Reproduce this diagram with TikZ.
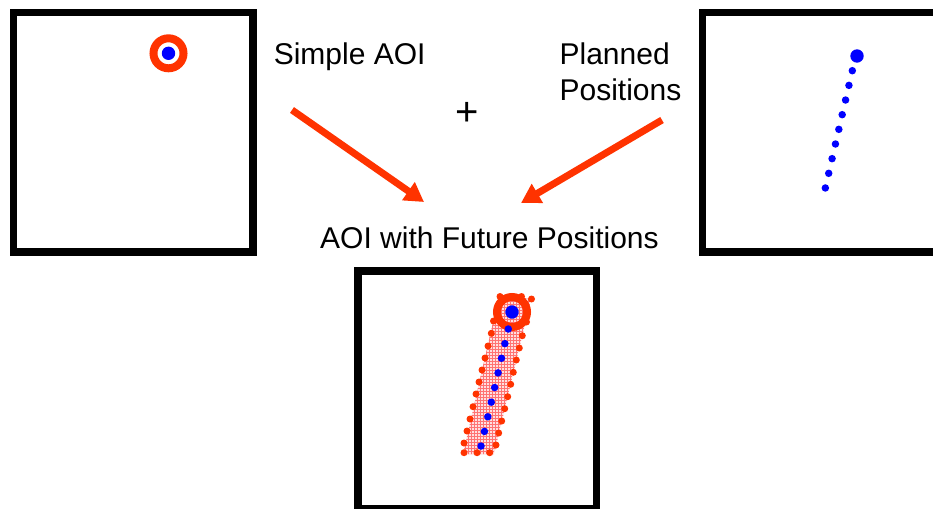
\documentclass[tikz,border=0pt]{standalone}
\usepackage{fontspec}
\setmainfont{Liberation Sans}
\usetikzlibrary{arrows.meta,patterns}
\definecolor{aoired}{RGB}{255,51,0}
\definecolor{dotblue}{RGB}{0,0,255}
\begin{document}
\begin{tikzpicture}[x=1pt,y=-1pt,
  frame/.style={draw=black, line width=7.5pt},
  caption/.style={font=\fontsize{30}{35}\selectfont, inner sep=0pt, anchor=base west},
  flow/.style={draw=aoired, line width=7pt, -{Triangle[length=19pt,width=21pt]}},
  bigdot/.style={circle, fill=dotblue, inner sep=0pt, minimum size=13.4pt},
  plandot/.style={circle, fill=dotblue, inner sep=0pt, minimum size=7.5pt},
  edgedot/.style={circle, fill=aoired, inner sep=0pt, minimum size=7pt},
  ring/.style={circle, draw=aoired, line width=8pt, inner sep=0pt, minimum size=30pt},
  band/.style={fill=red!12, postaction={pattern=grid, pattern color=red!55}}]

\useasboundingbox (0,0) rectangle (933,508);
\clip (0,0) rectangle (933,508);
\fill[white] (0,0) rectangle (933,508);

% three panels
\draw[frame] (13.5,12.5) rectangle (253,252.2);
\draw[frame] (702.3,12.5) rectangle (942,252.2);
\draw[frame] (358,271) rectangle (596.3,509);

% panel 1: simple area of interest
\node[ring] (ringA) at (168.5,53.3) {};
\node[bigdot] (coreA) at (168.5,53.3) {};

% panel 2: planned positions
\node[bigdot] (coreB) at (857,56) {};
\foreach \i in {0,...,8}
  \node[plandot] (pB\i) at ({852.3-3.37*\i},{70.7+14.66*\i}) {};

% panel 3: area of interest swept along the planned positions
\fill[band] (463,454) -- (494,454) -- (531,299) -- (499,296) -- cycle;
\foreach \x/\y [count=\k] in {
    500/296.5, 521.5/296.5, 531.5/299, 493.5/321, 526.5/322,
    491.3/333.3, 488/346, 485/358, 482/370, 479/382, 476/394,
    473/406.7, 470/419, 467/431, 464/443, 464/452.7,
    477/452.7, 489.7/452.7,
    522.3/335.7, 519.3/348, 516.3/360, 513.3/372.3, 510.7/384.3,
    507.7/396.7, 504.7/408.7, 501.7/421, 498.7/433, 496/445}
  \node[edgedot] (e\k) at (\x,\y) {};
\node[ring] (ringC) at (512,312) {};
\node[bigdot] (coreC) at (512,312) {};
\foreach \i in {0,...,8}
  \node[plandot] (pC\i) at ({508.3-3.41*\i},{329+14.63*\i}) {};

% captions
\node[caption] (simple) at (273.6,65) {Simple AOI};
\node[caption] (plan1) at (559.4,65) {Planned};
\node[caption] (plan2) at (559.4,100) {Positions};
\node[font=\fontsize{40}{44}\selectfont, inner sep=0pt, anchor=base] (plus) at (467.5,125.7) {+};
\node[caption] (future) at (320,248) {AOI with Future Positions};

% combining arrows
\coordinate (s1) at (292,110);
\coordinate (t1) at (424,202);
\coordinate (s2) at (662,120);
\coordinate (t2) at (521,203);
\draw[flow] (s1) -- (t1);
\draw[flow] (s2) -- (t2);
\end{tikzpicture}
\end{document}
